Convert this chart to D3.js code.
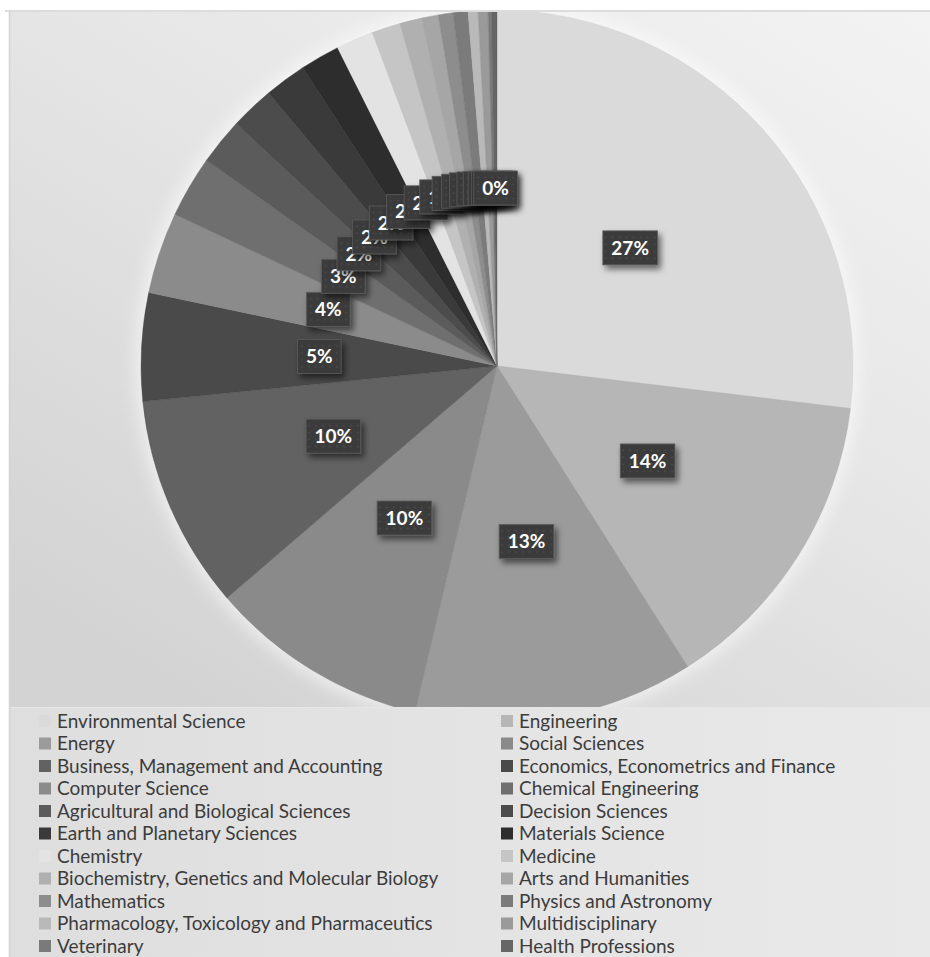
<!DOCTYPE html>
<html>
<head>
<meta charset="utf-8">
<script src="https://cdn.jsdelivr.net/npm/d3@7"></script>
<style>
  html, body { margin: 0; padding: 0; background: #ffffff; }
  svg { display: block; }
</style>
</head>
<body>
<script>
// Subject areas, in slice order (clockwise from 12 o'clock)
const categories = [
  "Environmental Science", "Engineering", "Energy", "Social Sciences",
  "Business, Management and Accounting", "Economics, Econometrics and Finance",
  "Computer Science", "Chemical Engineering", "Agricultural and Biological Sciences",
  "Decision Sciences", "Earth and Planetary Sciences", "Materials Science",
  "Chemistry", "Medicine", "Biochemistry, Genetics and Molecular Biology",
  "Arts and Humanities", "Mathematics", "Physics and Astronomy",
  "Pharmacology, Toxicology and Pharmaceutics", "Multidisciplinary",
  "Veterinary", "Health Professions"
];

// Share of documents per subject area (%)
const shares = [
  26.9, 14.1, 12.7, 10.0,
  9.7, 4.9,
  3.7, 2.8, 2.1,
  2.0, 1.9, 1.8,
  1.7, 1.3, 1.0,
  0.75, 0.67, 0.67,
  0.45, 0.45,
  0.15, 0.25
];

// Grayscale palette, one tone per subject area
const sliceColors = [
  "#dadada", "#b6b6b6", "#9b9b9b", "#8a8a8a",
  "#626262", "#4a4a4a",
  "#8b8b8b", "#6f6f6f", "#5b5b5b",
  "#4c4c4c", "#3a3a3a", "#2d2d2d",
  "#e3e3e3", "#c5c5c5", "#b0b0b0",
  "#a6a6a6", "#8d8d8d", "#7b7b7b",
  "#b9b9b9", "#9a9a9a",
  "#7a7a7a", "#666666"
];

const data = categories.map((name, i) => ({ name, value: shares[i], color: sliceColors[i] }));
const total = d3.sum(shares);

const W = 930, H = 957;
const svg = d3.select("body").append("svg").attr("width", W).attr("height", H);
const defs = svg.append("defs");

// Chart-area backgrounds
const plotGrad = defs.append("linearGradient").attr("id", "plotBg")
  .attr("x1", "1").attr("y1", "0").attr("x2", "0.2").attr("y2", "1");
plotGrad.append("stop").attr("offset", "0").attr("stop-color", "#f3f3f3");
plotGrad.append("stop").attr("offset", "0.45").attr("stop-color", "#e6e6e6");
plotGrad.append("stop").attr("offset", "1").attr("stop-color", "#d3d3d3");

const legendGrad = defs.append("linearGradient").attr("id", "legendBg")
  .attr("x1", "0").attr("y1", "0").attr("x2", "1").attr("y2", "0");
legendGrad.append("stop").attr("offset", "0").attr("stop-color", "#dedede");
legendGrad.append("stop").attr("offset", "1").attr("stop-color", "#e9e9e9");

// Dotted fill for the data-label boxes
const pat = defs.append("pattern").attr("id", "dots")
  .attr("patternUnits", "userSpaceOnUse").attr("width", 7).attr("height", 7);
pat.append("rect").attr("width", 7).attr("height", 7).attr("fill", "#3a3a3a");
pat.append("circle").attr("cx", 3.5).attr("cy", 3.5).attr("r", 1).attr("fill", "#4d4d4d");

const shadow = defs.append("filter").attr("id", "labelShadow")
  .attr("x", "-30%").attr("y", "-30%").attr("width", "170%").attr("height", "190%");
shadow.append("feDropShadow").attr("dx", 3).attr("dy", 4).attr("stdDeviation", 3)
  .attr("flood-color", "#000").attr("flood-opacity", 0.55);

const glow = defs.append("filter").attr("id", "pieGlow")
  .attr("x", "-20%").attr("y", "-20%").attr("width", "140%").attr("height", "140%");
glow.append("feGaussianBlur").attr("stdDeviation", 8);

const plotTop = 12, plotBottom = 707, frameLeft = 10;
defs.append("clipPath").attr("id", "plotClip")
  .append("rect").attr("x", frameLeft).attr("y", plotTop)
  .attr("width", W - frameLeft).attr("height", plotBottom - plotTop);

// Frame and backgrounds
svg.append("rect").attr("x", frameLeft).attr("y", plotTop)
  .attr("width", W - frameLeft).attr("height", plotBottom - plotTop)
  .attr("fill", "url(#plotBg)");
svg.append("rect").attr("x", frameLeft).attr("y", plotBottom)
  .attr("width", W - frameLeft).attr("height", H - plotBottom)
  .attr("fill", "url(#legendBg)");
svg.append("line").attr("x1", frameLeft).attr("x2", W).attr("y1", plotBottom + 0.5).attr("y2", plotBottom + 0.5)
  .attr("stroke", "#e6e6e6").attr("stroke-width", 1);
svg.append("line").attr("x1", 5).attr("x2", W).attr("y1", 11).attr("y2", 11)
  .attr("stroke", "#dcdcdc").attr("stroke-width", 2);
svg.append("line").attr("x1", frameLeft - 0.5).attr("x2", frameLeft - 0.5).attr("y1", 11).attr("y2", H)
  .attr("stroke", "#d4d4d4").attr("stroke-width", 1.5);

// Pie
const cx = 497, cy = 366, R = 356;
const pie = d3.pie().sort(null).value(d => d.value);
const arcs = pie(data);
const arc = d3.arc().innerRadius(0).outerRadius(R);
const labelArc = d3.arc().innerRadius(R * 0.5).outerRadius(R * 0.5);

const plot = svg.append("g").attr("clip-path", "url(#plotClip)");
plot.append("circle").attr("cx", cx).attr("cy", cy).attr("r", R + 6)
  .attr("fill", "#ffffff").attr("opacity", 0.55).attr("filter", "url(#pieGlow)");

const pieG = plot.append("g").attr("transform", `translate(${cx},${cy})`);
pieG.selectAll("path.slice").data(arcs).join("path")
  .attr("class", "slice")
  .attr("d", arc)
  .attr("fill", d => d.data.color)
  .attr("stroke", d => d3.color(d.data.color).darker(0.15))
  .attr("stroke-width", 0.4);

// Data labels: later slices are drawn over earlier ones
const labelFont = "Lato, 'Open Sans', 'DejaVu Sans', sans-serif";
arcs.forEach(d => {
  const [lx, ly] = labelArc.centroid(d);
  const g = pieG.append("g").attr("transform", `translate(${lx},${ly})`);
  const box = g.append("rect").attr("fill", "url(#dots)")
    .attr("stroke", "#5c5c5c").attr("stroke-width", 0.8)
    .attr("filter", "url(#labelShadow)");
  const t = g.append("text")
    .attr("text-anchor", "middle").attr("dy", "0.36em")
    .attr("font-family", labelFont).attr("font-weight", 700).attr("font-size", 19)
    .attr("fill", "#ffffff")
    .text(Math.round(d.data.value / total * 100) + "%");
  const w = t.node().getComputedTextLength() + 17;
  const h = 34;
  box.attr("x", -w / 2).attr("y", -h / 2).attr("width", w).attr("height", h);
});

// Legend: two columns, filled row by row
const legendFont = "Lato, 'Open Sans', 'DejaVu Sans', sans-serif";
const colX = [39, 501];
const rowY0 = 721, rowStep = 22.5, sw = 12;
const legend = svg.append("g");
data.forEach((d, i) => {
  const col = i % 2, row = Math.floor(i / 2);
  const x = colX[col], y = rowY0 + row * rowStep;
  legend.append("rect").attr("x", x).attr("y", y - sw / 2).attr("width", sw).attr("height", sw)
    .attr("fill", d.color);
  legend.append("text").attr("x", x + 18).attr("y", y).attr("dy", "0.35em")
    .attr("font-family", legendFont).attr("font-size", 19).attr("fill", "#3c3c3c")
    .text(d.name);
});
</script>
</body>
</html>
